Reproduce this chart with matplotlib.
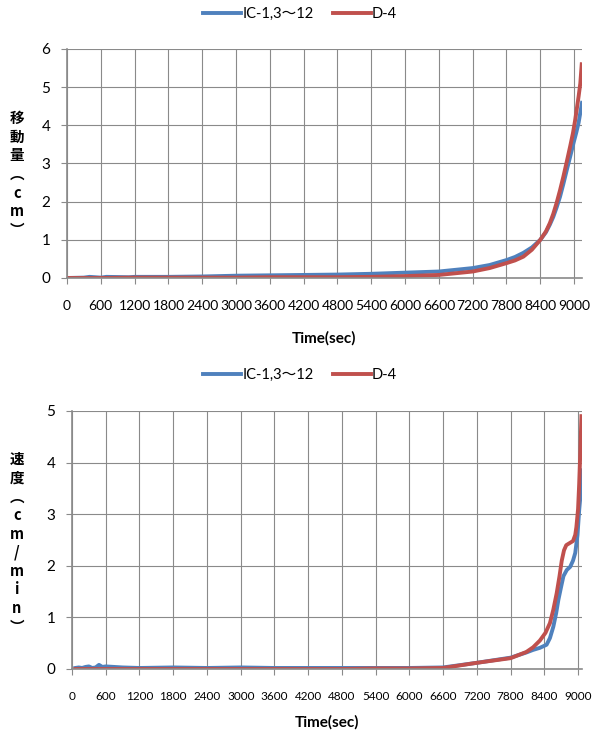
import numpy as np
import matplotlib
matplotlib.use('Agg')
import matplotlib.pyplot as plt

# ---- data ----
series_names = ['IC-1,3～12', 'D-4']
xticks = list(range(0, 9001, 600))

# displacement (cm)
disp_blue_t = [0, 300, 400, 600, 700, 1100, 1200, 1800, 2400, 3000, 3600, 4200, 4800, 5400,
               6000, 6600, 7200, 7500, 7800, 7950, 8100, 8250, 8400, 8500, 8570, 8630, 8690,
               8750, 8810, 8870, 8930, 8990, 9040, 9080, 9140]
disp_blue_v = [0.0, 0.01, 0.03, 0.01, 0.03, 0.02, 0.03, 0.03, 0.04, 0.06, 0.07, 0.08, 0.09, 0.11,
               0.14, 0.17, 0.26, 0.34, 0.47, 0.55, 0.66, 0.8, 1.0, 1.2, 1.4, 1.6, 1.85,
               2.13, 2.47, 2.83, 3.18, 3.54, 3.82, 4.07, 4.59]
disp_red_t = [0, 600, 1200, 1800, 2400, 3000, 3600, 4200, 4800, 5400, 6000, 6600, 7200,
              7500, 7800, 7950, 8100, 8250, 8400, 8500, 8570, 8630, 8690, 8750, 8810, 8870,
              8930, 8980, 9020, 9080, 9110, 9135]
disp_red_v = [0.0, 0.0, 0.01, 0.01, 0.01, 0.01, 0.02, 0.02, 0.02, 0.03, 0.05, 0.08, 0.17,
              0.26, 0.39, 0.46, 0.56, 0.74, 1.0, 1.22, 1.44, 1.68, 1.97, 2.3, 2.66, 3.05,
              3.45, 3.8, 4.15, 4.76, 5.1, 5.6]

# velocity (cm/min)
vel_blue_t = [60, 120, 180, 240, 300, 360, 420, 480, 540, 600, 900, 1200, 1800, 2400, 3000,
              3600, 4200, 4800, 5400, 6000, 6600, 7200, 7800, 8080, 8200, 8320, 8440, 8500,
              8560, 8610, 8650, 8700, 8740, 8800, 8860, 8910, 8950, 8990, 9020, 9050, 9080]
vel_blue_v = [0.02, 0.03, 0.02, 0.04, 0.05, 0.02, 0.03, 0.08, 0.04, 0.05, 0.03, 0.02, 0.03, 0.02,
              0.03, 0.02, 0.02, 0.02, 0.02, 0.02, 0.03, 0.12, 0.22, 0.32, 0.37, 0.41, 0.47, 0.6,
              0.82, 1.08, 1.34, 1.6, 1.8, 1.92, 1.98, 2.1, 2.25, 2.6, 3.08, 3.45, 3.85]
vel_red_t = [60, 600, 1200, 1800, 2400, 3000, 3600, 4200, 4800, 5400, 6000, 6600, 7200,
             7800, 8080, 8200, 8320, 8420, 8500, 8560, 8620, 8670, 8710, 8750, 8790, 8850,
             8910, 8950, 8970, 9000, 9020, 9040, 9060]
vel_red_v = [0.0, 0.0, 0.0, 0.0, 0.0, 0.0, 0.0, 0.0, 0.0, 0.01, 0.01, 0.02, 0.12,
             0.21, 0.33, 0.42, 0.55, 0.7, 0.89, 1.15, 1.47, 1.8, 2.1, 2.3, 2.4, 2.44,
             2.48, 2.6, 2.75, 3.1, 3.59, 4.2, 4.9]

BLUE = '#4F81BD'
RED = '#C0504D'
GRID = '#8A8A8A'
NUM_FONT = ['Lato', 'Noto Sans CJK JP', 'DejaVu Sans']
CJK_FONT = ['Noto Sans CJK JP', 'DejaVu Sans']

plt.rcParams['font.family'] = NUM_FONT

fig = plt.figure(figsize=(5.92, 7.4), dpi=100)


def style_axes(ax, ymax, xmax, xfs):
    ax.set_xlim(0, xmax)
    ax.set_ylim(0, ymax)
    ax.set_xticks(xticks)
    ax.set_yticks(range(0, ymax + 1))
    ax.grid(True, color=GRID, linewidth=0.8)
    ax.set_axisbelow(True)
    for s in ['top', 'right']:
        ax.spines[s].set_visible(False)
    for s in ['left', 'bottom']:
        ax.spines[s].set_color(GRID)
        ax.spines[s].set_linewidth(1.2)
    ax.tick_params(axis='both', colors=GRID, length=4, width=0.8, labelcolor='black')
    ax.tick_params(axis='x', labelsize=xfs, pad=12)
    ax.tick_params(axis='y', labelsize=11, pad=8)


def add_legend(ax, y):
    fig.legend(handles=ax.get_lines(), labels=series_names, loc='center',
               bbox_to_anchor=(0.507, y), ncol=2, frameon=False, fontsize=10.5,
               handlelength=2.6, handletextpad=0.1, columnspacing=1.3)


# top chart: displacement
ax1 = fig.add_axes([67 / 592, 1 - 278 / 740, 515 / 592, 229 / 740])
ax1.plot(disp_blue_t, disp_blue_v, color=BLUE, linewidth=2.8, solid_joinstyle='round')
ax1.plot(disp_red_t, disp_red_v, color=RED, linewidth=2.8, solid_joinstyle='round')
style_axes(ax1, 6, 9140, 10)
add_legend(ax1, 1 - 14 / 740)
fig.text(324 / 592, 1 - 338 / 740, 'Time(sec)', ha='center', va='center',
         fontsize=11, fontweight='bold')
fig.text(17 / 592, 1 - 174 / 740, '\n'.join('移動量︵cm︶'), ha='center', va='center',
         fontsize=10.5, fontweight='bold', family=CJK_FONT, linespacing=1.2)

# bottom chart: velocity
ax2 = fig.add_axes([72 / 592, 1 - 669 / 740, 510 / 592, 258 / 740])
ax2.plot(vel_blue_t, vel_blue_v, color=BLUE, linewidth=2.8, solid_joinstyle='round')
ax2.plot(vel_red_t, vel_red_v, color=RED, linewidth=2.8, solid_joinstyle='round')
style_axes(ax2, 5, 9070, 8.5)
add_legend(ax2, 1 - 375 / 740)
fig.text(327 / 592, 1 - 722 / 740, 'Time(sec)', ha='center', va='center',
         fontsize=11, fontweight='bold')
fig.text(17 / 592, 1 - 543 / 740, '\n'.join('速度︵cm/min︶'), ha='center', va='center',
         fontsize=10.5, fontweight='bold', family=CJK_FONT, linespacing=1.2)

fig.savefig('out.png', dpi=100)
